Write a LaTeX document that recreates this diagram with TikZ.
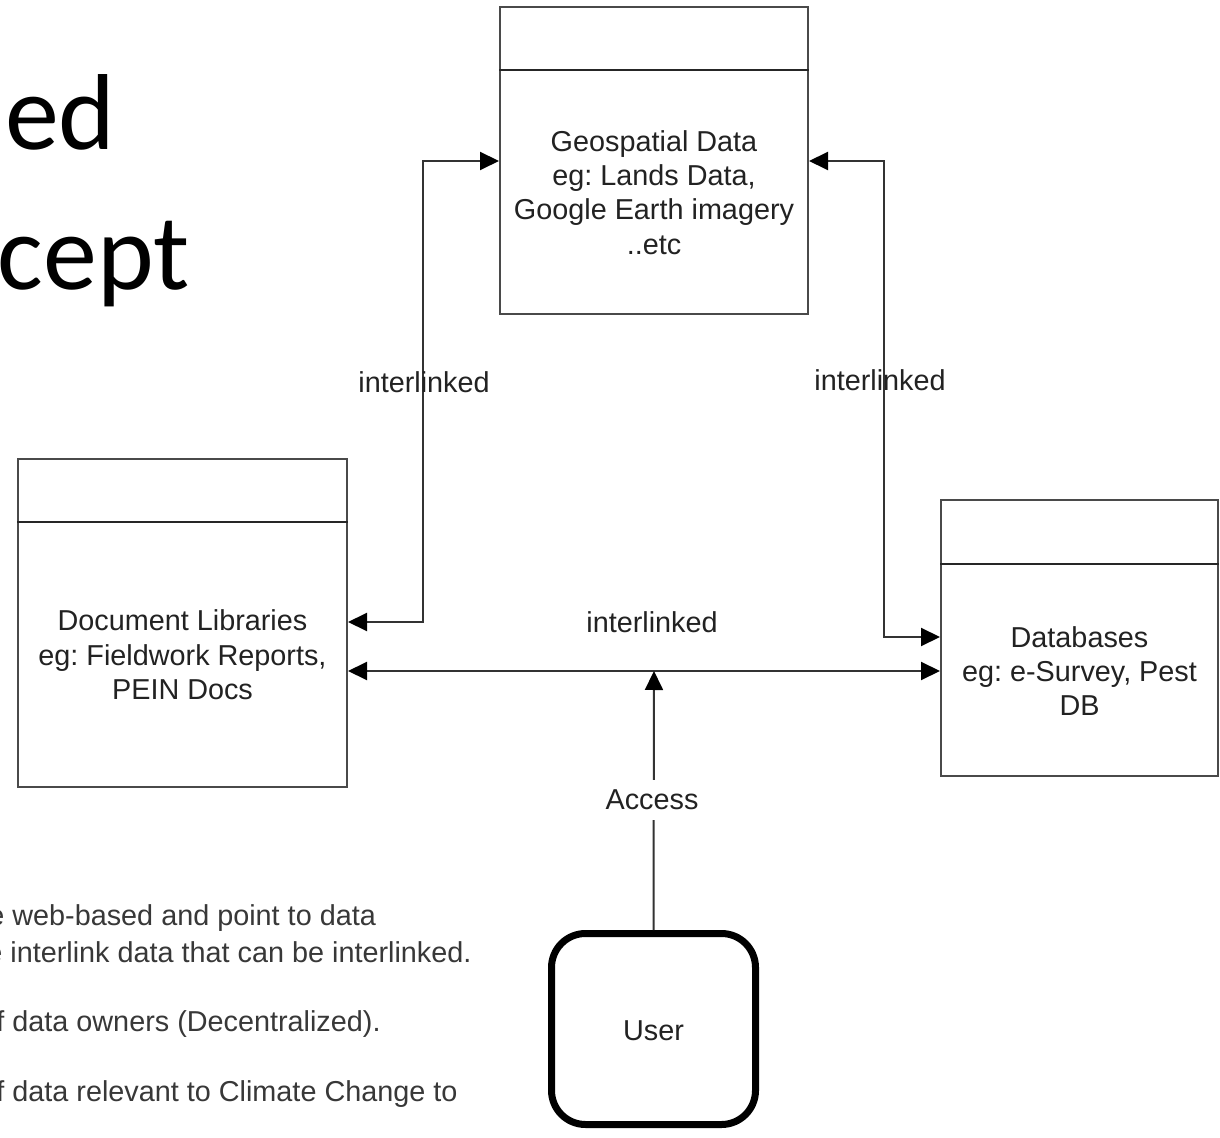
\documentclass[tikz,border=0pt]{standalone}
\usepackage{fontspec}
\setmainfont{Liberation Sans}
\newfontfamily\titlefont{Carlito}
\usetikzlibrary{arrows.meta}
\definecolor{boxgray}{HTML}{4A4A4A}
\definecolor{linegray}{HTML}{333333}
\definecolor{txtgray}{HTML}{222222}
\definecolor{notegray}{HTML}{383838}
\frenchspacing
\begin{document}
\begin{tikzpicture}[x=0.5pt,y=-0.5pt,
  box/.style={draw=boxgray, line width=1pt, rectangle, inner sep=0pt},
  header/.style={draw=black!85, line width=1pt},
  lbl/.style={align=center, text=txtgray, inner sep=0pt,
    font=\fontsize{14.4pt}{17.2pt}\selectfont},
  note/.style={anchor=base west, text=notegray, inner sep=0pt,
    font=\fontsize{14.4pt}{17.2pt}\selectfont},
  conn/.style={draw=linegray, line width=1pt},
  tip/.style={-{Triangle[length=9.5pt,width=9pt,color=black]}},
  dtip/.style={{Triangle[length=9.5pt,width=9pt,color=black]}-{Triangle[length=9.5pt,width=9pt,color=black]}},
  userbox/.style={draw=black, line width=3.5pt, rounded corners=17pt,
    minimum width=102pt, minimum height=95.5pt, inner sep=0pt},
  bigtitle/.style={anchor=base east, inner sep=0pt,
    font=\titlefont\fontsize{54pt}{66pt}\selectfont}
]
\useasboundingbox (0,0) rectangle (1220,1138);
\fill[white] (0,0) rectangle (1220,1138);
\clip (0,0) rectangle (1220,1138);

% title fragments
\node[bigtitle] (t1) at (116,150) {ed};
\node[bigtitle] (t2) at (190,290) {cept};

% boxes
\node[box, minimum width=154pt, minimum height=153.5pt] (geo) at (654,160.5) {};
\draw[header] (geo.north west) ++(0,64.5) coordinate (gh1) -- (gh1 -| geo.east);
\node[lbl] (geot) at (654,192.5) {Geospatial Data\\eg: Lands Data,\\Google Earth imagery\\..etc};

\node[box, minimum width=164.5pt, minimum height=164pt] (doc) at (182.5,623) {};
\draw[header] (doc.north west) ++(0,64) coordinate (dh1) -- (dh1 -| doc.east);
\node[lbl] (doct) at (182.5,655) {Document Libraries\\eg: Fieldwork Reports,\\PEIN Docs};

\node[box, minimum width=138.5pt, minimum height=138pt] (db) at (1079.5,638) {};
\draw[header] (db.north west) ++(0,65) coordinate (bh1) -- (bh1 -| db.east);
\node[lbl] (dbt) at (1079.5,671) {Databases\\eg: e-Survey, Pest\\DB};

\node[userbox] (user) at (653.5,1029) {};
\node[lbl] (usert) at (653.5,1031) {User};

% connector corners
\coordinate (l1) at (423,161);
\coordinate (l2) at (423,622);
\coordinate (r1) at (884,161);
\coordinate (r2) at (884,637);
\coordinate (h) at (654,671);

\draw[conn, dtip] (geo.west |- l1) -- (l1) -- (l2) -- (doc.east |- l2);
\draw[conn, dtip] (geo.east |- r1) -- (r1) -- (r2) -- (db.west |- r2);
\draw[conn, dtip] (doc.east |- h) -- (db.west |- h);
\draw[conn, tip] (user.north) -- (h);

% connector labels
\node[lbl] (il1) at (424,382) {interlinked};
\node[lbl] (il2) at (880,380) {interlinked};
\node[lbl] (il3) at (652,622) {interlinked};
\node[lbl, fill=white, inner xsep=2pt, inner ysep=5pt] (acc) at (652,800) {Access};

% notes at bottom left
\node[note] (n1) at (-12,925) {e web-based and point to data};
\node[note] (n2) at (-14,962) {e interlink data that can be interlinked.};
\node[note] (n3) at (-4,1031) {f data owners (Decentralized).};
\node[note] (n4) at (-4,1101) {f data relevant to Climate Change to};
\end{tikzpicture}
\end{document}
